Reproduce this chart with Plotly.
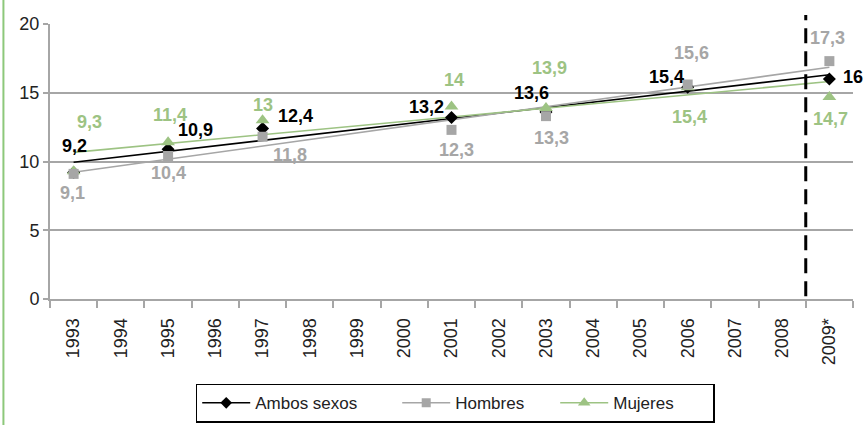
import numpy as np
import plotly.graph_objects as go

# Data
years = ["1993", "1994", "1995", "1996", "1997", "1998", "1999", "2000",
         "2001", "2002", "2003", "2004", "2005", "2006", "2007", "2008", "2009*"]
survey_years = ["1993", "1995", "1997", "2001", "2003", "2006", "2009*"]

ambos = [9.2, 10.9, 12.4, 13.2, 13.6, 15.4, 16]
hombres = [9.1, 10.4, 11.8, 12.3, 13.3, 15.6, 17.3]
mujeres = [9.3, 11.4, 13, 14, 13.9, 15.4, 14.7]

# label offsets in pixels (dx, dy)
ambos_off = [(1, 27), (27, 19), (33, 13), (-25, 11), (-14, 19), (-21, 10), (24, 2)]
hombres_off = [(-1, -19), (0, -17), (27, -18), (5, -20), (6, -22), (4, 32), (-2, 23)]
mujeres_off = [(16, 49), (2, 27), (0, 15), (2, 27), (4, 40), (2, -30), (1, -22)]

BLACK = "#000000"
GRAY = "#a6a6a6"
GREEN = "#9dc383"
FONT = "Liberation Sans, Arial"

series = [
    ("Ambos sexos", ambos, BLACK, "diamond", 10, ambos_off, 137),
    ("Hombres", hombres, GRAY, "square", 10, hombres_off, 95),
    ("Mujeres", mujeres, GREEN, "triangle-up", 12, mujeres_off, 95),
]

idx = np.array([years.index(y) for y in survey_years])

fig = go.Figure()

# trend lines (linear fit over category index, like Excel)
for name, vals, color, sym, size, off, lw in series:
    k, b = np.polyfit(idx, vals, 1)
    xs = [int(idx[0]), int(idx[-1])]
    fig.add_trace(go.Scatter(
        x=[years[i] for i in xs], y=[k * i + b for i in xs],
        mode="lines", line=dict(color=color, width=1.6),
        showlegend=False, hoverinfo="skip"
    ))

# points
for name, vals, color, sym, size, off, lw in [series[0], series[2], series[1]]:
    fig.add_trace(go.Scatter(
        x=survey_years, y=vals, mode="markers",
        marker=dict(symbol=sym, size=size, color=color),
        showlegend=False
    ))

# legend entries
for name, vals, color, sym, size, off, lw in series:
    fig.add_trace(go.Scatter(
        x=[None], y=[None], mode="lines+markers", name=name, legendwidth=lw,
        line=dict(color=color, width=1.5),
        marker=dict(symbol=sym, size=size - 1, color=color)
    ))

# data labels
for name, vals, color, sym, size, off, lw in series:
    for i, v, (dx, dy) in zip(idx, vals, off):
        fig.add_annotation(
            x=int(i), y=v, text=str(v).replace(".", ","), showarrow=False,
            xshift=dx, yshift=dy,
            font=dict(family=FONT, size=18, color=color, weight="bold")
        )

# dashed separator before 2009*
fig.add_shape(type="line", xref="x", yref="paper", x0=15.5, x1=15.5, y0=0.01, y1=1.033,
              line=dict(color="black", width=3, dash="15px,8px"))

# green page border on left
fig.add_shape(type="line", xref="paper", yref="paper", x0=-0.058, x1=-0.058, y0=-0.46, y1=1.09,
              line=dict(color="#8dc87a", width=2))

fig.update_layout(
    width=866, height=425,
    margin=dict(l=50, r=13, t=24, b=126),
    plot_bgcolor="white", paper_bgcolor="white",
    font=dict(family=FONT, size=18, color="#222222"),
    xaxis=dict(
        type="category", categoryorder="array", categoryarray=years,
        range=[-0.5, 16.5], tickangle=-90, tickson="boundaries",
        ticks="outside", ticklen=7, tickcolor="#a6a6a6", tickwidth=1.5,
        showline=True, linecolor="#a6a6a6", linewidth=2, showgrid=False,
        tickfont=dict(size=18, color="#222222"), automargin=False,
        ticklabelstandoff=10
    ),
    yaxis=dict(
        range=[0, 20], tickvals=[0, 5, 10, 15, 20], ticks="outside", ticklen=5,
        tickcolor="#a6a6a6", tickwidth=1.5, showline=True, linecolor="#a6a6a6", linewidth=2,
        showgrid=True, gridcolor="#a6a6a6", gridwidth=1.5, zeroline=False,
        tickfont=dict(size=18, color="#222222"), automargin=False
    ),
    legend=dict(
        orientation="h", xref="container", yref="container",
        x=0.226, xanchor="left", y=0.097, yanchor="top",
        bordercolor="black", borderwidth=1.5, bgcolor="white", itemwidth=48,
        font=dict(size=17, color="#222222")
    ),
)

fig.write_html("out.html", config={"displayModeBar": False},
               post_script="document.body.style.margin='0';document.body.style.overflow='hidden';")
